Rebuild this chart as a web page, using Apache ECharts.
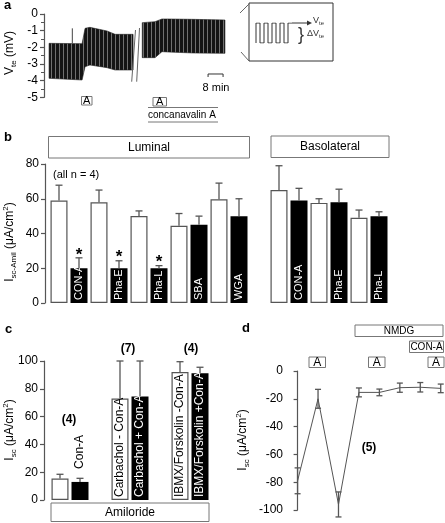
<!DOCTYPE html>
<html><head><meta charset="utf-8">
<script src="https://cdn.jsdelivr.net/npm/echarts@6/dist/echarts.min.js"></script>
<style>html,body{margin:0;padding:0;background:#fff}#c{width:445px;height:523px}</style>
</head><body><div id="c"></div>
<script>
// ================= DATA =================
// Panel a: Vte trace envelopes (time in min, Vte in mV)
const aSeg1Time   = [2.7, 20.3, 21.9, 24.5, 33.6, 37.9, 47.5];
const aSeg1Top    = [-1.76, -1.78, -0.86, -0.80, -1.02, -1.22, -1.22];
const aSeg1Bottom = [-3.86, -3.96, -3.16, -3.06, -3.22, -3.36, -3.36];
const aSeg2Time   = [52.4, 59.2, 62.9, 66.1, 79.5, 96.5];
const aSeg2Top    = [-0.52, -0.46, -0.30, -0.30, -0.32, -0.36];
const aSeg2Bottom = [-2.62, -2.62, -2.26, -2.28, -2.34, -2.36];
const aMarkTime = 15.1;
const aMarkRange = [-1.76, -0.86];
const aScaleStart = 87.5, aScaleMinutes = 8, aScaleLevel = -3.6;
const aInsetLevels = [1, 0, 1, 0, 1, 0, 1, 0, 1];

// Panel b: Isc-Amil (µA/cm2), 17 slots (slot 10 is the gap)
const bLabels = ['', 'CON-A', '', 'Pha-E', '', 'Pha-L', '', 'SBA', '', 'WGA', '', '', 'CON-A', '', 'Pha-E', '', 'Pha-L'];
const bValues = [59, 20, 58, 20, 50, 20, 44.5, 45, 59.7, 50, null, 65, 59, 57.6, 58, 49, 50];
const bErrors = [8.8, 6, 7, 4.3, 3, 1.5, 7, 5, 9.3, 10, null, 14, 7, 2.4, 7.5, 4.5, 2.5];
const bStars  = [0, 1, 0, 1, 0, 1, 0, 0, 0, 0, 0, 0, 0, 0, 0, 0, 0];

// Panel c: Isc (µA/cm2), 8 slots
const cLabels = ['', 'Con-A', '', 'Carbachol - Con-A', 'Carbachol + Con-A', '', 'IBMX/Forskolin -Con-A', 'IBMX/Forskolin +Con-A'];
const cValues = [15.5, 13, null, 73, 74.5, null, 92, 91.2];
const cErrors = [3, 2.6, null, 27, 25.5, null, 7.5, 4.3];
const cConA   = [0, 1, null, 0, 1, null, 0, 1];

// Panel d: Isc time course
const dMeans  = [-79, -20, -96, -15.4, -15.4, -12, -11.7, -12.5];
const dErrors = [9.3, 6.8, 9, 3.2, 2.4, 3.3, 3.4, 3.1];

// ================= CHART =================
const FONT = '"Liberation Sans", Arial, Helvetica, sans-serif';
const AX = '#555';
const chart = echarts.init(document.getElementById('c'), null, {renderer: 'canvas'});

// stripe pattern for the Vte trace
const pc = document.createElement('canvas');
pc.width = 4; pc.height = 4;
const pctx = pc.getContext('2d');
pctx.fillStyle = '#141414'; pctx.fillRect(0, 0, 4, 4);
pctx.fillStyle = '#707070'; pctx.fillRect(3, 0, 1, 4);
const stripe = {image: pc, repeat: 'repeat'};

const aSegments = [
  {time: aSeg1Time, top: aSeg1Top, bottom: aSeg1Bottom},
  {time: aSeg2Time, top: aSeg2Top, bottom: aSeg2Bottom}
];

function yAx(grid, min, max, interval, offset, fs, minor) {
  return {
    gridIndex: grid, type: 'value', min, max, interval, offset,
    axisLine: {show: true, lineStyle: {color: AX, width: 1.2}},
    axisTick: {show: true, length: 4, lineStyle: {color: AX, width: 1.2}},
    minorTick: minor ? {show: true, splitNumber: 2, length: 3, lineStyle: {color: AX}} : {show: false},
    splitLine: {show: false}, minorSplitLine: {show: false},
    axisLabel: {color: '#000', fontSize: fs, margin: 6, fontFamily: FONT}
  };
}

function errRender(twoSided, hw) {
  return function (params, api) {
    const x = api.value(0), v = api.value(1), e = api.value(2), star = api.value(3);
    const pTop = api.coord([x, v + e]);
    const pBot = api.coord([x, twoSided ? v - e : v]);
    const st = {stroke: AX, lineWidth: 1.3};
    const ch = [
      {type: 'line', shape: {x1: pBot[0], y1: pBot[1], x2: pTop[0], y2: pTop[1]}, style: st},
      {type: 'line', shape: {x1: pTop[0] - hw, y1: pTop[1], x2: pTop[0] + hw, y2: pTop[1]}, style: st}
    ];
    if (twoSided) ch.push({type: 'line', shape: {x1: pBot[0] - hw, y1: pBot[1], x2: pBot[0] + hw, y2: pBot[1]}, style: st});
    if (star) ch.push({type: 'text', x: pTop[0], y: pTop[1] - 3,
      style: {text: '*', fontSize: 17, fontWeight: 'bold', fontFamily: FONT, fill: '#000', align: 'center', verticalAlign: 'middle'}});
    return {type: 'group', children: ch};
  };
}

const whiteBar = {color: '#fff', borderColor: '#555', borderWidth: 1.2};
const blackBar = {color: '#000'};

const bData = bValues.map((v, i) => v == null ? '-' : {
  value: v,
  itemStyle: bLabels[i] ? blackBar : whiteBar
});
const bErrData = [];
bValues.forEach((v, i) => { if (v != null) bErrData.push([i, v, bErrors[i], bStars[i]]); });

const cData = cValues.map((v, i) => {
  if (v == null) return '-';
  const dark = cConA[i] === 1;
  const item = {value: v, itemStyle: dark ? blackBar : whiteBar};
  if (cLabels[i]) {
    const inside = v > 50;
    item.label = {
      show: true, formatter: cLabels[i], rotate: 90, align: 'left', verticalAlign: 'middle',
      position: inside ? 'insideBottom' : 'top', distance: inside ? 3 : 13,
      color: inside && dark ? '#fff' : '#000', fontSize: 12, fontFamily: FONT
    };
  }
  return item;
});
const cErrData = [];
cValues.forEach((v, i) => { if (v != null) cErrData.push([i, v, cErrors[i], 0]); });

const dLine = dMeans.map((m, i) => [i, m]);
const dErrData = dMeans.map((m, i) => [i, m, dErrors[i], 0]);

const insetData = [[0, 0]];
aInsetLevels.forEach((l, i) => { insetData.push([i, l]); insetData.push([i + 1, l]); });

// ---- graphic helpers ----
function txt(x, y, text, o) {
  return {type: 'text', x, y, silent: true, z: 100,
    style: Object.assign({text, fill: '#000', fontSize: 12, fontFamily: FONT, align: 'center', verticalAlign: 'middle'}, o || {})};
}
function rect(x, y, w, h) {
  return {type: 'rect', silent: true, z: 100, shape: {x, y, width: w, height: h}, style: {fill: 'none', stroke: '#777', lineWidth: 1}};
}
function seg(x1, y1, x2, y2, c, w) {
  return {type: 'line', silent: true, z: 100, shape: {x1, y1, x2, y2}, style: {stroke: c || AX, lineWidth: w || 1}};
}
function box(x, y, w, h, t, fs) {
  return [rect(x, y, w, h), txt(x + w / 2, y + h / 2, t, {fontSize: fs})];
}
const richBase = {
  m: {fontSize: 12, fontFamily: FONT, fill: '#000', lineHeight: 16},
  s: {fontSize: 8, fontFamily: FONT, fill: '#000', verticalAlign: 'bottom', lineHeight: 16},
  p: {fontSize: 8, fontFamily: FONT, fill: '#000', verticalAlign: 'top', lineHeight: 16}
};
function yName(x, y, t) {
  return {type: 'text', x, y, rotation: Math.PI / 2, silent: true, z: 100,
    style: {text: t, rich: richBase, align: 'center', verticalAlign: 'middle'}};
}

const graphics = [].concat(
  [txt(4, 5.5, 'a', {fontWeight: 'bold', fontSize: 13, align: 'left'}),
   txt(4, 137.5, 'b', {fontWeight: 'bold', fontSize: 13, align: 'left'}),
   txt(5, 329.5, 'c', {fontWeight: 'bold', fontSize: 13, align: 'left'}),
   txt(242, 328.5, 'd', {fontWeight: 'bold', fontSize: 13, align: 'left'})],
  // y axis names
  [yName(10, 53, '{m|V}{s|te}{m| (mV)}'),
   yName(10, 242, '{m|I}{s|sc-Amil}{m| (μA/cm}{p|2}{m|)}'),
   yName(10, 430, '{m|I}{s|sc}{m| (μA/cm}{p|2}{m|)}'),
   yName(243, 440, '{m|I}{s|sc}{m| (μA/cm}{p|2}{m|)}')],
  // panel a annotations
  [seg(135.5, 30, 131.7, 81.7, '#666'), seg(139.5, 28, 136.7, 81.7, '#666')],
  box(81.5, 96.5, 10.5, 8.5, 'A', 11),
  box(153, 97.5, 13.5, 8.5, 'A', 11),
  [seg(148, 107.5, 218, 107.5, '#777'), txt(148, 115, 'concanavalin A', {fontSize: 10, align: 'left'}), seg(148, 122, 218, 122, '#777')],
  [txt(216, 87.5, '8 min', {fontSize: 11})],
  // inset
  [{type: 'rect', silent: true, z: 100, shape: {x: 249, y: 3, width: 84, height: 58}, style: {fill: 'none', stroke: '#333', lineWidth: 1}},
   seg(240, 13, 249, 4, '#666'), seg(241, 52, 249, 61, '#666'),
   seg(292, 23, 308, 23, '#333'),
   {type: 'polygon', silent: true, z: 100, shape: {points: [[312, 23], [307, 20.5], [307, 25.5]]}, style: {fill: '#333'}},
   txt(301, 35, '}', {fontSize: 18, fill: '#333'}),
   {type: 'text', x: 313, y: 21, silent: true, z: 100, style: {text: '{m|V}{s|te}', align: 'left', verticalAlign: 'middle',
     rich: {m: {fontSize: 9, fontFamily: FONT, fill: '#333', lineHeight: 11}, s: {fontSize: 6, fontFamily: FONT, fill: '#333', verticalAlign: 'bottom', lineHeight: 11}}}},
   {type: 'text', x: 307, y: 34, silent: true, z: 100, style: {text: '{m|ΔV}{s|te}', align: 'left', verticalAlign: 'middle',
     rich: {m: {fontSize: 9, fontFamily: FONT, fill: '#333', lineHeight: 11}, s: {fontSize: 6, fontFamily: FONT, fill: '#333', verticalAlign: 'bottom', lineHeight: 11}}}}],
  // panel b
  box(48.5, 136.5, 201, 21.5, 'Luminal', 12),
  box(271, 136, 118, 21.5, 'Basolateral', 12),
  [txt(53, 175, '(all n = 4)', {fontSize: 11, align: 'left'})],
  // panel c
  [txt(69, 420, '(4)', {fontSize: 12, fontWeight: 'bold'}),
   txt(128, 349, '(7)', {fontSize: 12, fontWeight: 'bold'}),
   txt(191, 349, '(4)', {fontSize: 12, fontWeight: 'bold'})],
  box(51, 503, 158, 18.5, 'Amiloride', 12),
  // panel d
  box(355, 325, 88, 11.5, 'NMDG', 10),
  box(409.5, 341, 34, 11.5, 'CON-A', 10),
  box(309, 357, 16.5, 10.5, 'A', 12),
  box(368.5, 357, 16.5, 10.5, 'A', 12),
  box(428, 357, 16, 10.5, 'A', 12),
  [txt(369, 447.5, '(5)', {fontSize: 12, fontWeight: 'bold'})]
);

const option = {
  animation: false,
  backgroundColor: '#fff',
  textStyle: {fontFamily: FONT},
  grid: [
    {left: 44, top: 14, width: 187.5, height: 83.33},
    {left: 49, top: 164, width: 340, height: 139},
    {left: 50, top: 361, width: 160, height: 139},
    {left: 289, top: 371, width: 155, height: 139},
    {left: 256, top: 23, width: 36, height: 20}
  ],
  xAxis: [
    {gridIndex: 0, type: 'value', min: 0, max: 100, show: false},
    {gridIndex: 1, type: 'category', data: bLabels.map((l, i) => 'b' + i), show: false},
    {gridIndex: 2, type: 'category', data: cLabels.map((l, i) => 'c' + i), show: false},
    {gridIndex: 3, type: 'value', min: -0.42, max: 7.16, show: false},
    {gridIndex: 4, type: 'value', min: 0, max: 9, show: false}
  ],
  yAxis: [
    yAx(0, -5, 0, 1, 0, 12, true),
    yAx(1, 0, 80, 20, 4, 12, false),
    yAx(2, 0, 100, 20, 6, 12, false),
    yAx(3, -100, 0, 20, 0, 12, false),
    {gridIndex: 4, type: 'value', min: 0, max: 1, show: false}
  ],
  graphic: graphics,
  series: [
    {type: 'custom', xAxisIndex: 0, yAxisIndex: 0,
     data: aSegments.map(s => [s.time[0], s.top[0]]),
     renderItem: (params, api) => {
       const s = aSegments[params.dataIndex];
       const pts = [];
       s.time.forEach((t, i) => pts.push(api.coord([t, s.top[i]])));
       for (let i = s.time.length - 1; i >= 0; i--) pts.push(api.coord([s.time[i], s.bottom[i]]));
       return {type: 'polygon', shape: {points: pts}, style: {fill: stripe, stroke: '#222', lineWidth: 0.6}};
     }},
    {type: 'line', xAxisIndex: 0, yAxisIndex: 0, symbol: 'none', lineStyle: {color: '#444', width: 1},
     data: [[aMarkTime, aMarkRange[0]], [aMarkTime, aMarkRange[1]]]},
    {type: 'line', xAxisIndex: 0, yAxisIndex: 0, symbol: 'none', lineStyle: {color: '#333', width: 1},
     data: [[aScaleStart, aScaleLevel - 0.18], [aScaleStart, aScaleLevel], [aScaleStart + aScaleMinutes, aScaleLevel], [aScaleStart + aScaleMinutes, aScaleLevel - 0.18]]},
    {type: 'bar', xAxisIndex: 1, yAxisIndex: 1, barWidth: 17, data: bData,
     label: {show: true, position: 'insideBottom', rotate: 90, align: 'left', verticalAlign: 'middle', distance: 3,
       color: '#fff', fontSize: 11, fontFamily: FONT, formatter: p => bLabels[p.dataIndex]}},
    {type: 'custom', xAxisIndex: 1, yAxisIndex: 1, data: bErrData, renderItem: errRender(false, 3.5), z: 5},
    {type: 'bar', xAxisIndex: 2, yAxisIndex: 2, barWidth: 17, data: cData},
    {type: 'custom', xAxisIndex: 2, yAxisIndex: 2, data: cErrData, renderItem: errRender(false, 3.5), z: 5},
    {type: 'line', xAxisIndex: 3, yAxisIndex: 3, symbol: 'none', data: dLine, lineStyle: {color: '#555', width: 1}},
    {type: 'custom', xAxisIndex: 3, yAxisIndex: 3, data: dErrData, renderItem: errRender(true, 3), z: 5},
    {type: 'line', xAxisIndex: 4, yAxisIndex: 4, symbol: 'none', data: insetData, lineStyle: {color: '#333', width: 1}}
  ]
};
chart.setOption(option);
</script>
</body></html>
